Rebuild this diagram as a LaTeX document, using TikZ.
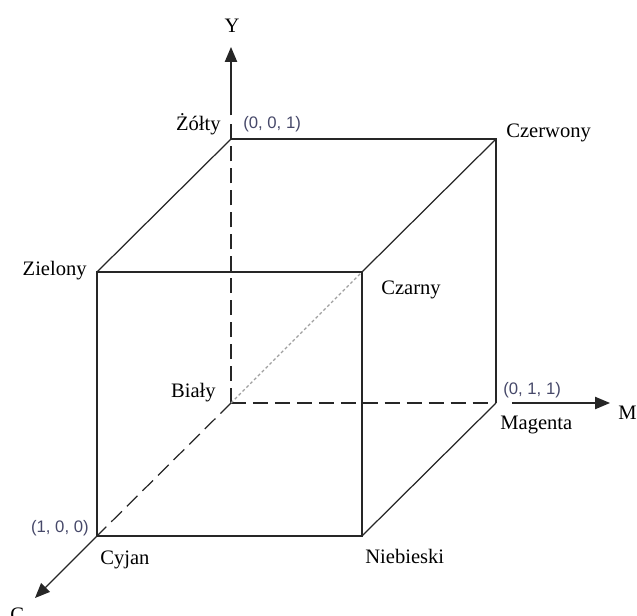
\documentclass[tikz,border=0pt]{standalone}
\usepackage{fontspec}
\setmainfont{Liberation Serif}
\newfontfamily\coordfont{Liberation Sans}
\usepackage{tikz}
\usetikzlibrary{positioning, calc, arrows.meta}
\definecolor{coordGray}{RGB}{70, 72, 105}

\begin{document}
\begin{tikzpicture}[
    x=0.02cm, y=-0.02cm,
    edge/.style={line width=0.7pt, black!85},
    hidden/.style={edge, dash pattern=on 8.5pt off 4pt},
    diag/.style={line width=0.8pt, gray!75, dash pattern=on 1.7pt off 1.4pt},
    axis/.style={edge, -{Triangle[length=8.5pt, width=7pt]}},
    lbl/.style={font=\fontsize{11.7}{14}\selectfont, inner sep=0pt},
    coord/.style={font=\coordfont\fontsize{9.5}{11}\selectfont, text=coordGray, inner sep=0pt},
  ]
    \useasboundingbox (0,0) rectangle (637,616);
    % cube corners
    \coordinate (bialy) at (231,403);
    \coordinate (zolty) at (231,139);
    \coordinate (czerwony) at (496,139);
    \coordinate (magenta) at (496,403);
    \coordinate (zielony) at (97,272);
    \coordinate (czarny) at (362,272);
    \coordinate (cyjan) at (97,536);
    \coordinate (niebieski) at (362,536);
    % axis tips
    \coordinate (ytip) at (231,47);
    \coordinate (mtip) at (610,403);
    \coordinate (ctip) at (35,598);
    % hidden edges
    \draw[hidden] (bialy) -- (zolty);
    \draw[hidden] (bialy) -- (magenta);
    \draw[hidden] (bialy) -- (cyjan);
    \draw[diag] (bialy) -- (czarny);
    % visible edges
    \draw[edge] (zolty) -- (czerwony) -- (magenta);
    \draw[edge] (zielony) -- (czarny) -- (niebieski) -- (cyjan) -- cycle;
    \draw[edge] (zielony) -- (zolty);
    \draw[edge] (czarny) -- (czerwony);
    \draw[edge] (niebieski) -- (magenta);
    % axes
    \draw[axis, dash pattern=on 8.5pt off 5pt on 60pt] (zolty) -- (ytip);
    \draw[axis, shorten <=9pt] (magenta) -- (mtip);
    \draw[axis] (cyjan) -- (ctip);
    \node[lbl, anchor=base] (yname) at (232,32) {Y};
    \node[lbl, anchor=base west] (mname) at (618,419) {M};
    \node[lbl, anchor=base west] (cname) at (10,621) {C};
    % colour names
    \node[lbl, anchor=base east] (lblZolty) at (221,130) {Żółty};
    \node[lbl, anchor=base west] (lblCzerwony) at (506,137) {Czerwony};
    \node[lbl, anchor=base east] (lblZielony) at (87,275) {Zielony};
    \node[lbl, anchor=base west] (lblCzarny) at (381,294) {Czarny};
    \node[lbl, anchor=base east] (lblBialy) at (216,397) {Biały};
    \node[lbl, anchor=base west] (lblMagenta) at (500,429) {Magenta};
    \node[lbl, anchor=base west] (lblCyjan) at (100,564) {Cyjan};
    \node[lbl, anchor=base west] (lblNiebieski) at (365,563) {Niebieski};
    % coordinates
    \node[coord, anchor=base west] (pt001) at (243,128) {(0, 0, 1)};
    \node[coord, anchor=base west] (pt011) at (503,394) {(0, 1, 1)};
    \node[coord, anchor=base east] (pt100) at (89,532) {(1, 0, 0)};
  \end{tikzpicture}
\end{document}
